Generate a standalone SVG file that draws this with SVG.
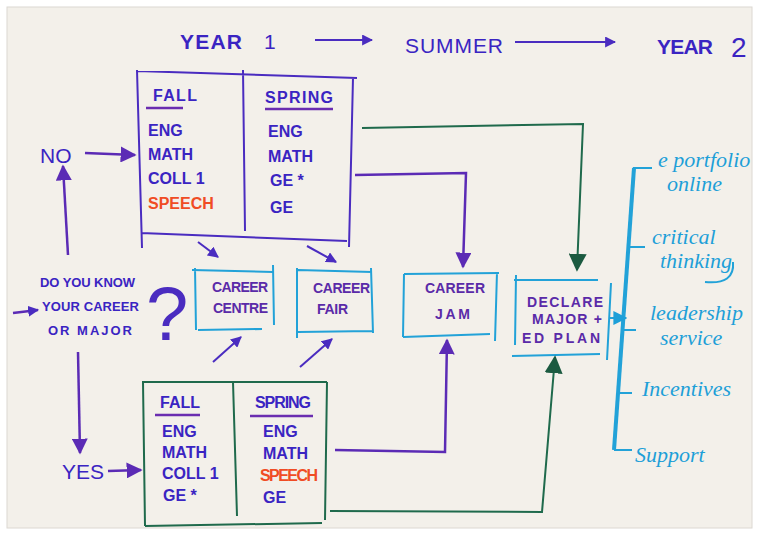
<svg xmlns="http://www.w3.org/2000/svg" width="759" height="533" viewBox="0 0 759 533">
<defs>
<style>
.ink{fill:#3a24c2;font-family:"Liberation Sans","DejaVu Sans",sans-serif;font-weight:bold}
.hd{font-size:21px;font-weight:normal}
.bx{font-size:16px}
.red{fill:#f04c24}
.vio{fill:#5a2aa8;font-family:"Liberation Sans","DejaVu Sans",sans-serif;font-weight:bold;font-size:14px}
.cy{fill:#1d9fd8;font-family:"Liberation Serif","DejaVu Serif",serif;font-style:italic;font-size:22px}
.lp{stroke:#4a2cc0;stroke-width:2;fill:none}
.lg{stroke:#1f6a4c;stroke-width:2;fill:none}
.lc{stroke:#22a2d8;stroke-width:2;fill:none}
.cp{stroke:#5b2bb5;stroke-width:2.5;fill:none}
.cg{stroke:#1f6a4c;stroke-width:2;fill:none}
.ul{stroke:#6a2db0;stroke-width:2.5}
</style>
<marker id="hP" viewBox="0 0 10 10" refX="9" refY="5" markerWidth="16" markerHeight="16" markerUnits="userSpaceOnUse" orient="auto"><path d="M0,0 L10,5 L0,10 z" fill="#5b2bb5"/></marker>
<marker id="hPs" viewBox="0 0 10 10" refX="9" refY="5" markerWidth="11" markerHeight="11" markerUnits="userSpaceOnUse" orient="auto"><path d="M0,0 L10,5 L0,10 z" fill="#4a2cc0"/></marker>
<marker id="hG" viewBox="0 0 10 10" refX="9" refY="5" markerWidth="18" markerHeight="18" markerUnits="userSpaceOnUse" orient="auto"><path d="M0,0 L10,5 L0,10 z" fill="#1b5a40"/></marker>
<marker id="hC" viewBox="0 0 10 10" refX="9" refY="5" markerWidth="14" markerHeight="14" markerUnits="userSpaceOnUse" orient="auto"><path d="M0,0 L10,5 L0,10 z" fill="#1d9fd8"/></marker>
</defs>
<rect x="0" y="0" width="759" height="533" fill="#ffffff"/>
<rect x="7" y="7" width="745" height="521" fill="#f3f0ea" stroke="#dcd8d2" stroke-width="1"/>

<g id="timeline">
<text class="ink hd" x="180" y="49" textLength="62" style="font-weight:bold">YEAR</text>
<text class="ink hd" x="264" y="49">1</text>
<text class="ink hd" x="405" y="53" textLength="98">SUMMER</text>
<text class="ink hd" x="657" y="54" textLength="56" style="font-weight:bold">YEAR</text>
<text class="ink" x="731" y="57" style="font-size:28px;font-weight:normal">2</text>
</g>

<g id="node-plan-no">
<path class="lp" d="M137,70 L142,248 M137,71 L357,78 M353,78 L349,247 M141,233 L347,241 M243,70 L245,231"/>
<text class="ink bx" x="153" y="101" textLength="44">FALL</text>
<line class="ul" x1="146" y1="108" x2="183" y2="108"/>
<text class="ink bx" x="148" y="136">ENG</text>
<text class="ink bx" x="148" y="160">MATH</text>
<text class="ink bx" x="148" y="184">COLL 1</text>
<text class="ink bx red" x="148" y="209">SPEECH</text>
<text class="ink bx" x="265" y="103" textLength="68">SPRING</text>
<line class="ul" x1="265" y1="109" x2="333" y2="109"/>
<text class="ink bx" x="268" y="137">ENG</text>
<text class="ink bx" x="268" y="162">MATH</text>
<text class="ink bx" x="270" y="186">GE *</text>
<text class="ink bx" x="270" y="213">GE</text>
</g>

<g id="node-no">
<text class="ink hd" x="40" y="163">NO</text>
</g>

<g id="node-question">
<text class="ink" x="40" y="287" font-size="13" textLength="95">DO YOU KNOW</text>
<text class="ink" x="42" y="311" font-size="13" textLength="97">YOUR CAREER</text>
<text class="ink" x="48" y="335" font-size="13" textLength="84">OR MAJOR</text>
<text class="ink" x="146" y="340" style="font-size:76px;font-weight:normal;fill:#4a2cc0">?</text>
</g>

<g id="node-yes">
<text class="ink hd" x="62" y="479">YES</text>
</g>

<g id="node-career-centre">
<path class="lc" d="M192,270 L273,272 M195,268 L196,330 M273,265 L274,325 M198,330 L262,329"/>
<text class="vio" x="212" y="292" textLength="56">CAREER</text>
<text class="vio" x="213" y="313" textLength="55">CENTRE</text>
</g>

<g id="node-career-fair">
<path class="lc" d="M298,270 L372,272 M297,268 L297,338 M371,268 L373,333 M298,332 L372,331"/>
<text class="vio" x="313" y="293" textLength="57">CAREER</text>
<text class="vio" x="317" y="314" textLength="31">FAIR</text>
</g>

<g id="node-career-jam">
<path class="lc" d="M404,274 L499,273 M404,274 L403,337 M497,272 L495,341 M403,337 L490,334"/>
<text class="vio" x="425" y="293" textLength="60">CAREER</text>
<text class="vio" x="435" y="319" textLength="35">JAM</text>
</g>

<g id="node-declare">
<path class="lc" d="M514,280 L598,280 M516,275 L515,345 M611,283 L607,360 M512,356 L600,354"/>
<text class="vio" x="527" y="307" textLength="76">DECLARE</text>
<text class="vio" x="532" y="324" textLength="70">MAJOR +</text>
<text class="vio" x="522" y="343" textLength="78">ED PLAN</text>
</g>

<g id="node-plan-yes">
<path class="lg" d="M142,382 L327,382 M143,382 L145,526 M327,382 L325,520 M145,526 L322,523 M233,382 L237,516"/>
<text class="ink bx" x="160" y="408" textLength="40">FALL</text>
<line class="ul" x1="155" y1="415" x2="200" y2="415"/>
<text class="ink bx" x="162" y="437">ENG</text>
<text class="ink bx" x="162" y="458">MATH</text>
<text class="ink bx" x="162" y="479">COLL 1</text>
<text class="ink bx" x="163" y="501">GE *</text>
<text class="ink bx" x="255" y="408" textLength="56">SPRING</text>
<line class="ul" x1="250" y1="416" x2="313" y2="416"/>
<text class="ink bx" x="263" y="437">ENG</text>
<text class="ink bx" x="263" y="459">MATH</text>
<text class="ink bx red" x="260" y="481" textLength="58">SPEECH</text>
<text class="ink bx" x="263" y="503">GE</text>
</g>

<g id="node-outcomes">
<path d="M634,168 L614,450" stroke="#22a2d8" stroke-width="4" fill="none"/>
<path class="lc" stroke-width="3.5" d="M633,168 L652,168 M628,247 L645,247 M622,330 L636,330 M618,393 L632,393 M614,450 L632,450"/>
<text class="cy" x="658" y="167">e portfolio</text>
<text class="cy" x="667" y="191">online</text>
<text class="cy" x="652" y="244">critical</text>
<text class="cy" x="660" y="268">thinking</text>
<path class="lc" d="M705,282 Q735,285 733,262" stroke-width="1.5"/>
<text class="cy" x="650" y="320">leadership</text>
<text class="cy" x="660" y="345">service</text>
<text class="cy" x="642" y="396">Incentives</text>
<text class="cy" x="635" y="462" font-size="24">Support</text>
</g>

<g id="connectors">
<line class="lp" x1="315" y1="40" x2="372" y2="40" marker-end="url(#hPs)"/>
<line class="lp" x1="515" y1="42" x2="615" y2="42" marker-end="url(#hPs)"/>
<line class="cp" x1="85" y1="153" x2="135" y2="155" marker-end="url(#hP)"/>
<line class="cp" x1="68" y1="255" x2="63" y2="166" marker-end="url(#hP)"/>
<line class="cp" x1="13" y1="313" x2="38" y2="310" marker-end="url(#hPs)"/>
<line class="cp" x1="78" y1="352" x2="80" y2="453" marker-end="url(#hP)"/>
<line class="cp" x1="108" y1="471" x2="141" y2="470" marker-end="url(#hP)"/>
<line class="lp" x1="198" y1="242" x2="218" y2="257" marker-end="url(#hPs)"/>
<line class="lp" x1="307" y1="246" x2="336" y2="262" marker-end="url(#hPs)"/>
<line class="lp" x1="213" y1="362" x2="241" y2="337" marker-end="url(#hPs)"/>
<line class="lp" x1="300" y1="367" x2="332" y2="339" marker-end="url(#hPs)"/>
<path class="cg" d="M362,128 L583,124 L577,270" marker-end="url(#hG)"/>
<path class="cp" d="M355,175 L466,173 L463,267" marker-end="url(#hP)"/>
<path class="cp" d="M335,450 L445,452 L447,340" marker-end="url(#hP)"/>
<path class="cg" d="M330,511 L542,512 L555,357" marker-end="url(#hG)"/>
<line class="lc" x1="609" y1="318" x2="626" y2="318" marker-end="url(#hC)"/>
</g>
</svg>
